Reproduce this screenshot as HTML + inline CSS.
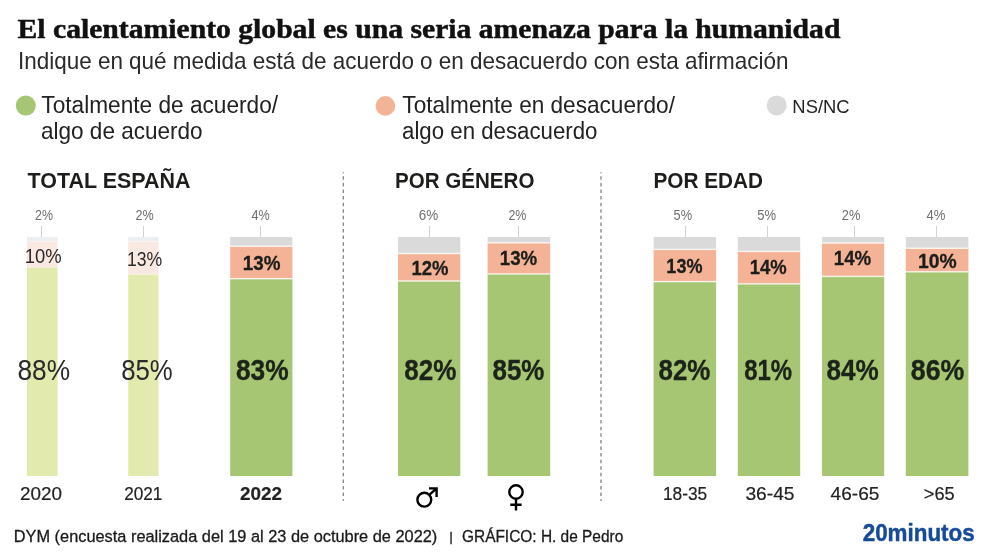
<!DOCTYPE html>
<html lang="es"><head><meta charset="utf-8"><title>El calentamiento global</title>
<style>html,body{margin:0;padding:0;background:#fff}svg{display:block}text{white-space:pre}</style></head>
<body><svg width="990" height="556" viewBox="0 0 990 556">
<rect width="990" height="556" fill="#fff"/>
<rect x="27" y="237" width="30.6" height="4.3" fill="#eceff1"/>
<rect x="27" y="241.3" width="30.6" height="26.1" fill="#fae8e2"/>
<rect x="27" y="267.4" width="30.6" height="208.6" fill="#e3eaae"/>
<rect x="27" y="240.6" width="30.6" height="1.4" fill="#fff" fill-opacity="0.25"/>
<rect x="27" y="266.7" width="30.6" height="1.4" fill="#fff" fill-opacity="0.25"/>
<line x1="41.5" x2="41.5" y1="226" y2="237" stroke="#d2d2d2" stroke-width="1"/>
<rect x="128.2" y="237" width="30.3" height="4.5" fill="#eceff1"/>
<rect x="128.2" y="241.5" width="30.3" height="33.0" fill="#fae8e2"/>
<rect x="128.2" y="274.5" width="30.3" height="201.5" fill="#e3eaae"/>
<rect x="128.2" y="240.8" width="30.3" height="1.4" fill="#fff" fill-opacity="0.25"/>
<rect x="128.2" y="273.8" width="30.3" height="1.4" fill="#fff" fill-opacity="0.25"/>
<line x1="143.5" x2="143.5" y1="226" y2="237" stroke="#d2d2d2" stroke-width="1"/>
<rect x="230.2" y="237" width="62.2" height="9.3" fill="#dadada"/>
<rect x="230.2" y="246.3" width="62.2" height="32.4" fill="#f4b396"/>
<rect x="230.2" y="278.7" width="62.2" height="197.3" fill="#a7c673"/>
<rect x="230.2" y="245.6" width="62.2" height="1.4" fill="#fff" fill-opacity="0.8"/>
<rect x="230.2" y="278.0" width="62.2" height="1.4" fill="#fff" fill-opacity="0.8"/>
<line x1="260.5" x2="260.5" y1="226" y2="237" stroke="#d2d2d2" stroke-width="1"/>
<rect x="398" y="237" width="62.3" height="16.5" fill="#dadada"/>
<rect x="398" y="253.5" width="62.3" height="27.5" fill="#f4b396"/>
<rect x="398" y="281" width="62.3" height="195.0" fill="#a7c673"/>
<rect x="398" y="252.8" width="62.3" height="1.4" fill="#fff" fill-opacity="0.8"/>
<rect x="398" y="280.3" width="62.3" height="1.4" fill="#fff" fill-opacity="0.8"/>
<line x1="429.5" x2="429.5" y1="226" y2="237" stroke="#d2d2d2" stroke-width="1"/>
<rect x="487.6" y="237" width="62.6" height="5.8" fill="#dadada"/>
<rect x="487.6" y="242.8" width="62.6" height="31.2" fill="#f4b396"/>
<rect x="487.6" y="274" width="62.6" height="202.0" fill="#a7c673"/>
<rect x="487.6" y="242.1" width="62.6" height="1.4" fill="#fff" fill-opacity="0.8"/>
<rect x="487.6" y="273.3" width="62.6" height="1.4" fill="#fff" fill-opacity="0.8"/>
<line x1="518.5" x2="518.5" y1="226" y2="237" stroke="#d2d2d2" stroke-width="1"/>
<rect x="653.6" y="237" width="62.5" height="12.4" fill="#dadada"/>
<rect x="653.6" y="249.4" width="62.5" height="32.2" fill="#f4b396"/>
<rect x="653.6" y="281.6" width="62.5" height="194.4" fill="#a7c673"/>
<rect x="653.6" y="248.7" width="62.5" height="1.4" fill="#fff" fill-opacity="0.8"/>
<rect x="653.6" y="280.9" width="62.5" height="1.4" fill="#fff" fill-opacity="0.8"/>
<line x1="685.5" x2="685.5" y1="226" y2="237" stroke="#d2d2d2" stroke-width="1"/>
<rect x="737.8" y="237" width="62.4" height="14.4" fill="#dadada"/>
<rect x="737.8" y="251.4" width="62.4" height="32.5" fill="#f4b396"/>
<rect x="737.8" y="283.9" width="62.4" height="192.1" fill="#a7c673"/>
<rect x="737.8" y="250.7" width="62.4" height="1.4" fill="#fff" fill-opacity="0.8"/>
<rect x="737.8" y="283.2" width="62.4" height="1.4" fill="#fff" fill-opacity="0.8"/>
<line x1="767.5" x2="767.5" y1="226" y2="237" stroke="#d2d2d2" stroke-width="1"/>
<rect x="822" y="237" width="62.2" height="6.0" fill="#dadada"/>
<rect x="822" y="243" width="62.2" height="33.4" fill="#f4b396"/>
<rect x="822" y="276.4" width="62.2" height="199.6" fill="#a7c673"/>
<rect x="822" y="242.3" width="62.2" height="1.4" fill="#fff" fill-opacity="0.8"/>
<rect x="822" y="275.7" width="62.2" height="1.4" fill="#fff" fill-opacity="0.8"/>
<line x1="854.5" x2="854.5" y1="226" y2="237" stroke="#d2d2d2" stroke-width="1"/>
<rect x="905.8" y="237" width="62.6" height="11.3" fill="#dadada"/>
<rect x="905.8" y="248.3" width="62.6" height="23.5" fill="#f4b396"/>
<rect x="905.8" y="271.8" width="62.6" height="204.2" fill="#a7c673"/>
<rect x="905.8" y="247.6" width="62.6" height="1.4" fill="#fff" fill-opacity="0.8"/>
<rect x="905.8" y="271.1" width="62.6" height="1.4" fill="#fff" fill-opacity="0.8"/>
<line x1="936.5" x2="936.5" y1="226" y2="237" stroke="#d2d2d2" stroke-width="1"/>
<line x1="343.3" x2="343.3" y1="172.2" y2="501" stroke="#7a7a7a" stroke-width="1.2" stroke-dasharray="3.5 3.09" stroke-dashoffset="2.5"/>
<line x1="601" x2="601" y1="172.2" y2="501" stroke="#7a7a7a" stroke-width="1.2" stroke-dasharray="3.5 3.09" stroke-dashoffset="2.5"/>
<circle cx="25.8" cy="105.6" r="10" fill="#a7c673"/>
<circle cx="385.4" cy="105.9" r="9.8" fill="#f4b396"/>
<circle cx="776.7" cy="105.4" r="10" fill="#dadada"/>
<g fill="none" stroke="#000" stroke-width="2.4"><circle cx="424.3" cy="499.7" r="6.9"/><path d="M429.3 494.8 L436.6 488.4 M429 488.4 H436.6 V497"/></g>
<g fill="none" stroke="#000" stroke-width="2.4"><circle cx="516" cy="492" r="6.7"/><path d="M516 498.7 V510.4 M510.3 504.7 H521.6"/></g>
<text transform="translate(17.54 38.30) scale(1.0597 1)" font-family='"Liberation Serif", serif' font-size="28" font-weight="bold" fill="#111" stroke="#111" stroke-width="0.5">El calentamiento global es una seria amenaza para la humanidad</text>
<text transform="translate(17.94 69.00) scale(0.9689 1)" font-family='"Liberation Sans", sans-serif' font-size="23.2" font-weight="normal" fill="#2a2a2a">Indique en qué medida está de acuerdo o en desacuerdo con esta afirmación</text>
<text transform="translate(41.35 112.90) scale(0.9686 1)" font-family='"Liberation Sans", sans-serif' font-size="23.4" font-weight="normal" fill="#222">Totalmente de acuerdo/</text>
<text transform="translate(41.00 139.00) scale(0.9630 1)" font-family='"Liberation Sans", sans-serif' font-size="23.4" font-weight="normal" fill="#222">algo de acuerdo</text>
<text transform="translate(402.35 112.90) scale(0.9656 1)" font-family='"Liberation Sans", sans-serif' font-size="23.4" font-weight="normal" fill="#222">Totalmente en desacuerdo/</text>
<text transform="translate(402.00 139.00) scale(0.9515 1)" font-family='"Liberation Sans", sans-serif' font-size="23.4" font-weight="normal" fill="#222">algo en desacuerdo</text>
<text transform="translate(792.36 112.90) scale(1.0227 1)" font-family='"Liberation Sans", sans-serif' font-size="18" font-weight="normal" fill="#222">NS/NC</text>
<text transform="translate(27.60 188.40) scale(0.9854 1)" font-family='"Liberation Sans", sans-serif' font-size="21.8" font-weight="bold" fill="#1d1d1b">TOTAL ESPAÑA</text>
<text transform="translate(395.01 188.40) scale(0.9437 1)" font-family='"Liberation Sans", sans-serif' font-size="21.8" font-weight="bold" fill="#1d1d1b">POR GÉNERO</text>
<text transform="translate(653.40 188.40) scale(0.9535 1)" font-family='"Liberation Sans", sans-serif' font-size="21.8" font-weight="bold" fill="#1d1d1b">POR EDAD</text>
<text transform="translate(35.12 219.90) scale(0.8626 1)" font-family='"Liberation Sans", sans-serif' font-size="14.4" font-weight="normal" fill="#6f6f6f">2%</text>
<text transform="translate(24.65 262.70) scale(0.8994 1)" font-family='"Liberation Sans", sans-serif' font-size="20.5" font-weight="normal" fill="#2b2b2b">10%</text>
<text transform="translate(17.48 380.00) scale(0.9032 1)" font-family='"Liberation Sans", sans-serif' font-size="29.1" font-weight="normal" fill="#2b2b2b">88%</text>
<text transform="translate(20.11 500.40) scale(1.0503 1)" font-family='"Liberation Sans", sans-serif' font-size="18" font-weight="normal" fill="#222" stroke="#222" stroke-width="0.2">2020</text>
<text transform="translate(135.41 219.90) scale(0.8778 1)" font-family='"Liberation Sans", sans-serif' font-size="14.4" font-weight="normal" fill="#6f6f6f">2%</text>
<text transform="translate(126.90 266.20) scale(0.8611 1)" font-family='"Liberation Sans", sans-serif' font-size="20.5" font-weight="normal" fill="#2b2b2b">13%</text>
<text transform="translate(121.19 380.00) scale(0.8855 1)" font-family='"Liberation Sans", sans-serif' font-size="29.1" font-weight="normal" fill="#2b2b2b">85%</text>
<text transform="translate(124.20 500.40) scale(0.9540 1)" font-family='"Liberation Sans", sans-serif' font-size="18" font-weight="normal" fill="#222" stroke="#222" stroke-width="0.2">2021</text>
<text transform="translate(251.50 219.90) scale(0.8731 1)" font-family='"Liberation Sans", sans-serif' font-size="14.4" font-weight="normal" fill="#6f6f6f">4%</text>
<text transform="translate(242.72 269.80) scale(0.9200 1)" font-family='"Liberation Sans", sans-serif' font-size="20.5" font-weight="bold" fill="#1d1d1b" stroke="#1d1d1b" stroke-width="0.3">13%</text>
<text transform="translate(235.88 380.00) scale(0.9048 1)" font-family='"Liberation Sans", sans-serif' font-size="29.1" font-weight="bold" fill="#1c241a" stroke="#1c241a" stroke-width="0.35">83%</text>
<text transform="translate(240.11 500.40) scale(1.0504 1)" font-family='"Liberation Sans", sans-serif' font-size="18" font-weight="bold" fill="#222" stroke="#222" stroke-width="0.2">2022</text>
<text transform="translate(418.67 219.90) scale(0.9336 1)" font-family='"Liberation Sans", sans-serif' font-size="14.4" font-weight="normal" fill="#6f6f6f">6%</text>
<text transform="translate(411.54 275.10) scale(0.9022 1)" font-family='"Liberation Sans", sans-serif' font-size="20.5" font-weight="bold" fill="#1d1d1b" stroke="#1d1d1b" stroke-width="0.3">12%</text>
<text transform="translate(404.19 380.00) scale(0.8960 1)" font-family='"Liberation Sans", sans-serif' font-size="29.1" font-weight="bold" fill="#1c241a" stroke="#1c241a" stroke-width="0.35">82%</text>
<text transform="translate(508.42 219.90) scale(0.8626 1)" font-family='"Liberation Sans", sans-serif' font-size="14.4" font-weight="normal" fill="#6f6f6f">2%</text>
<text transform="translate(499.83 265.40) scale(0.9124 1)" font-family='"Liberation Sans", sans-serif' font-size="20.5" font-weight="bold" fill="#1d1d1b" stroke="#1d1d1b" stroke-width="0.3">13%</text>
<text transform="translate(492.49 380.00) scale(0.8907 1)" font-family='"Liberation Sans", sans-serif' font-size="29.1" font-weight="bold" fill="#1c241a" stroke="#1c241a" stroke-width="0.35">85%</text>
<text transform="translate(673.60 219.90) scale(0.8879 1)" font-family='"Liberation Sans", sans-serif' font-size="14.4" font-weight="normal" fill="#6f6f6f">5%</text>
<text transform="translate(666.37 273.40) scale(0.8794 1)" font-family='"Liberation Sans", sans-serif' font-size="20.5" font-weight="bold" fill="#1d1d1b" stroke="#1d1d1b" stroke-width="0.3">13%</text>
<text transform="translate(658.49 380.00) scale(0.8907 1)" font-family='"Liberation Sans", sans-serif' font-size="29.1" font-weight="bold" fill="#1c241a" stroke="#1c241a" stroke-width="0.35">82%</text>
<text transform="translate(662.92 500.40) scale(0.9619 1)" font-family='"Liberation Sans", sans-serif' font-size="18" font-weight="normal" fill="#222" stroke="#222" stroke-width="0.2">18-35</text>
<text transform="translate(757.29 219.90) scale(0.9030 1)" font-family='"Liberation Sans", sans-serif' font-size="14.4" font-weight="normal" fill="#6f6f6f">5%</text>
<text transform="translate(749.85 274.30) scale(0.8997 1)" font-family='"Liberation Sans", sans-serif' font-size="20.5" font-weight="bold" fill="#1d1d1b" stroke="#1d1d1b" stroke-width="0.3">14%</text>
<text transform="translate(744.25 380.00) scale(0.8204 1)" font-family='"Liberation Sans", sans-serif' font-size="29.1" font-weight="bold" fill="#1c241a" stroke="#1c241a" stroke-width="0.35">81%</text>
<text transform="translate(745.40 500.40) scale(1.0683 1)" font-family='"Liberation Sans", sans-serif' font-size="18" font-weight="normal" fill="#222" stroke="#222" stroke-width="0.2">36-45</text>
<text transform="translate(841.69 219.90) scale(0.8981 1)" font-family='"Liberation Sans", sans-serif' font-size="14.4" font-weight="normal" fill="#6f6f6f">2%</text>
<text transform="translate(833.83 265.40) scale(0.9124 1)" font-family='"Liberation Sans", sans-serif' font-size="20.5" font-weight="bold" fill="#1d1d1b" stroke="#1d1d1b" stroke-width="0.3">14%</text>
<text transform="translate(826.49 380.00) scale(0.8960 1)" font-family='"Liberation Sans", sans-serif' font-size="29.1" font-weight="bold" fill="#1c241a" stroke="#1c241a" stroke-width="0.35">84%</text>
<text transform="translate(830.60 500.40) scale(1.0594 1)" font-family='"Liberation Sans", sans-serif' font-size="18" font-weight="normal" fill="#222" stroke="#222" stroke-width="0.2">46-65</text>
<text transform="translate(926.50 219.90) scale(0.9078 1)" font-family='"Liberation Sans", sans-serif' font-size="14.4" font-weight="normal" fill="#6f6f6f">4%</text>
<text transform="translate(917.99 267.80) scale(0.9428 1)" font-family='"Liberation Sans", sans-serif' font-size="20.5" font-weight="bold" fill="#1d1d1b" stroke="#1d1d1b" stroke-width="0.3">10%</text>
<text transform="translate(910.86 380.00) scale(0.9188 1)" font-family='"Liberation Sans", sans-serif' font-size="29.1" font-weight="bold" fill="#1c241a" stroke="#1c241a" stroke-width="0.35">86%</text>
<text transform="translate(923.75 500.40) scale(1.0117 1)" font-family='"Liberation Sans", sans-serif' font-size="18" font-weight="normal" fill="#222" stroke="#222" stroke-width="0.2">&gt;65</text>
<text transform="translate(13.72 541.90) scale(0.9624 1)" font-family='"Liberation Sans", sans-serif' font-size="17" font-weight="normal" fill="#1a1a1a" stroke="#1a1a1a" stroke-width="0.3">DYM (encuesta realizada del 19 al 23 de octubre de 2022)</text>
<text transform="translate(449.32 541.00) scale(1.0272 1)" font-family='"Liberation Sans", sans-serif' font-size="13.5" font-weight="normal" fill="#222" stroke="#222" stroke-width="0.3">|</text>
<text transform="translate(461.98 541.90) scale(0.9084 1)" font-family='"Liberation Sans", sans-serif' font-size="17" font-weight="normal" fill="#1a1a1a" stroke="#1a1a1a" stroke-width="0.3">GRÁFICO: H. de Pedro</text>
<text transform="translate(862.70 540.90) scale(0.9332 1)" font-family='"Liberation Sans", sans-serif' font-size="24" font-weight="bold" fill="#164a9a" stroke="#164a9a" stroke-width="0.45">20minutos</text>
</svg></body></html>
